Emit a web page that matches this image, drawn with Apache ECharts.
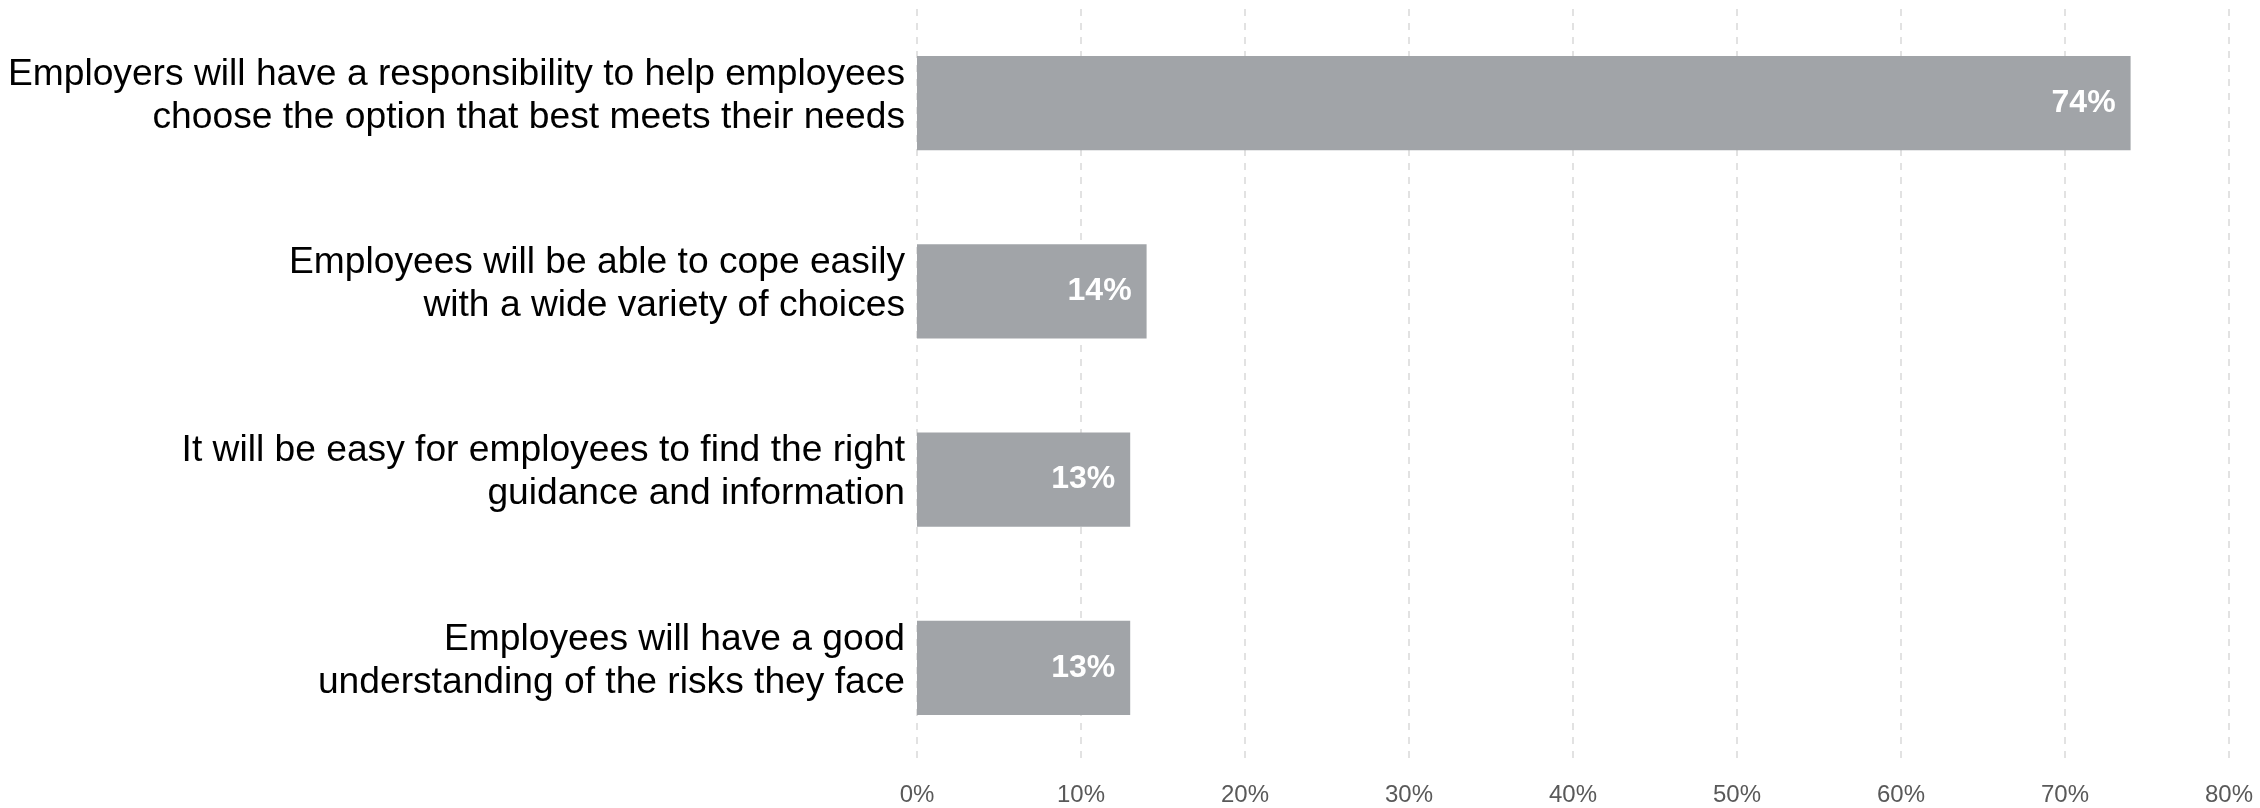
<!DOCTYPE html>
<html>
<head>
<meta charset="utf-8">
<style>
  html, body { margin: 0; padding: 0; background: #ffffff; }
  #chart { width: 2260px; height: 808px; }
</style>
<script src="https://cdn.jsdelivr.net/npm/echarts@6/dist/echarts.min.js"></script>
</head>
<body>
<div id="chart"></div>
<script>
// Survey statements (top to bottom) and share of respondents agreeing, in %
const categories = [
  'Employers will have a responsibility to help employees\nchoose the option that best meets their needs',
  'Employees will be able to cope easily\nwith a wide variety of choices',
  'It will be easy for employees to find the right\nguidance and information',
  'Employees will have a good\nunderstanding of the risks they face'
];
const shares = [74, 14, 13, 13];
const axisTicks = [0, 10, 20, 30, 40, 50, 60, 70, 80];

const chart = echarts.init(document.getElementById('chart'), null, { renderer: 'canvas' });

// Each statement is drawn as rich-text lines, with a short spacer line below
// so the two-line block sits slightly above the middle of its bar.
function statementLabel(value) {
  return value.split('\n').map(function (line) { return '{t|' + line + '}'; }).join('\n') + '\n{s| }';
}

chart.setOption({
  animation: false,
  backgroundColor: '#ffffff',
  grid: { left: 917, right: 31, top: 9, bottom: 46, containLabel: false },
  xAxis: {
    type: 'value',
    min: axisTicks[0],
    max: axisTicks[axisTicks.length - 1],
    interval: axisTicks[1] - axisTicks[0],
    axisLine: { show: false },
    axisTick: { show: false },
    axisLabel: {
      formatter: '{value}%',
      color: '#595959',
      fontSize: 24,
      fontFamily: 'Liberation Sans, Arial, sans-serif',
      margin: 21
    },
    splitLine: {
      show: true,
      lineStyle: { color: '#d9d9d9', width: 1.5, type: [7, 7] }
    }
  },
  yAxis: {
    type: 'category',
    data: categories,
    inverse: true,
    axisLine: { show: false },
    axisTick: { show: false },
    axisLabel: {
      formatter: statementLabel,
      align: 'right',
      margin: 12,
      rich: {
        t: {
          color: '#000000',
          fontSize: 37.2,
          lineHeight: 43,
          align: 'right',
          fontFamily: 'Liberation Sans, Arial, sans-serif'
        },
        s: {
          fontSize: 4,
          lineHeight: 14,
          align: 'right'
        }
      }
    }
  },
  series: [{
    type: 'bar',
    data: shares,
    barWidth: '50%',
    itemStyle: { color: '#a1a4a8' },
    label: {
      show: true,
      position: 'insideRight',
      distance: 15,
      formatter: '{c}%',
      color: '#ffffff',
      fontWeight: 'bold',
      fontSize: 32,
      padding: [4, 0, 0, 0],
      fontFamily: 'Liberation Sans, Arial, sans-serif'
    }
  }]
});
</script>
</body>
</html>
